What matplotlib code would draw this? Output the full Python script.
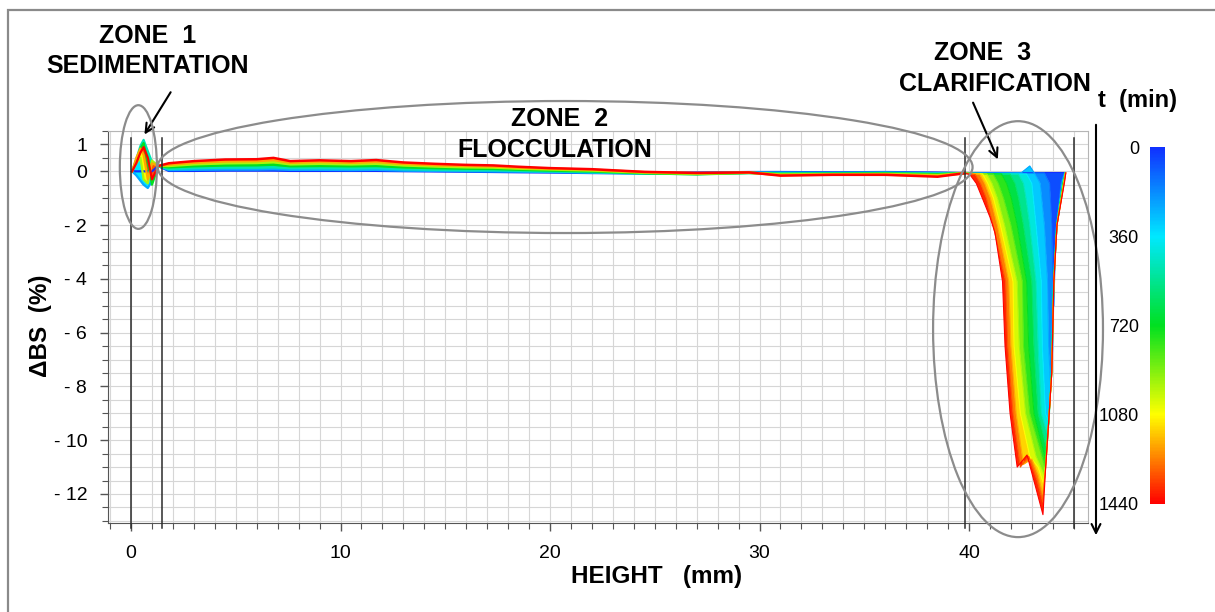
import matplotlib
matplotlib.use('Agg')
import matplotlib.pyplot as plt
from matplotlib.colors import LinearSegmentedColormap, Normalize
from matplotlib.cm import ScalarMappable
from matplotlib.patches import Ellipse, Rectangle, FancyArrowPatch
from matplotlib.ticker import FixedLocator, MultipleLocator, FuncFormatter

plt.rcParams['font.family'] = ['Liberation Sans', 'DejaVu Sans']

W, H = 1215, 612

# time colour scale (min)
t_ticks = [0, 360, 720, 1080, 1440]
t_colors = ['#1030ff', '#00e8ff', '#00e020', '#ffff00', '#ff0000']

# zone limits (mm)
zone_bounds = [0.0, 1.5, 39.8, 45.0]

# zone 1 : sedimentation, profiles read at a few times
z1_times = [0, 240, 480, 720, 960, 1200, 1440]
z1_height = [0.05, 0.25, 0.45, 0.6, 0.8, 1.0, 1.3]
z1_bs = [
    [0.0, 0.0, 0.0, 0.0, 0.0, 0.0, 0.2],
    [0.0, -0.15, -0.35, -0.5, -0.62, -0.35, 0.2],
    [0.0, 0.45, 0.95, 1.17, 0.75, 0.35, 0.2],
    [0.0, 0.4, 0.85, 1.05, 0.3, -0.5, 0.2],
    [0.0, 0.3, 0.5, -0.3, -0.45, 0.4, 0.2],
    [0.0, 0.5, 0.85, 0.6, -0.3, 0.3, 0.2],
    [0.0, 0.3, 0.7, 0.9, 0.5, -0.3, 0.2],
]

# zone 2 : flocculation
z2_times = [0, 240, 480, 720, 960, 1200, 1440]
z2_height = [1.3, 1.8, 3.0, 4.5, 6.0, 6.8, 7.6, 9.0, 10.5, 11.7, 13.0, 14.5, 16.0,
             17.3, 18.5, 20.0, 22.0, 24.5, 27.0, 29.5, 31.0, 33.5, 36.0, 38.5, 39.8]
z2_bs = [
    [0.20, 0.02, 0.02, 0.03, 0.03, 0.03, 0.02, 0.02, 0.02, 0.02, 0.01, 0.0, -0.01,
     -0.02, -0.03, -0.04, -0.06, -0.07, -0.05, -0.03, -0.03, -0.04, -0.03, -0.05, -0.07],
    [0.20, 0.05, 0.06, 0.07, 0.07, 0.08, 0.06, 0.06, 0.05, 0.06, 0.03, 0.02, 0.01,
     0.0, -0.01, -0.02, -0.05, -0.08, -0.07, -0.04, -0.05, -0.06, -0.05, -0.07, -0.07],
    [0.20, 0.09, 0.12, 0.14, 0.14, 0.15, 0.12, 0.12, 0.11, 0.12, 0.08, 0.06, 0.04,
     0.04, 0.02, 0.0, -0.03, -0.08, -0.10, -0.06, -0.07, -0.07, -0.06, -0.09, -0.07],
    [0.20, 0.15, 0.19, 0.22, 0.23, 0.25, 0.19, 0.20, 0.19, 0.20, 0.15, 0.12, 0.10,
     0.09, 0.06, 0.03, 0.0, -0.07, -0.11, -0.06, -0.10, -0.09, -0.08, -0.11, -0.07],
    [0.20, 0.20, 0.26, 0.30, 0.31, 0.34, 0.26, 0.28, 0.26, 0.28, 0.22, 0.18, 0.15,
     0.14, 0.10, 0.07, 0.03, -0.05, -0.09, -0.05, -0.12, -0.11, -0.10, -0.14, -0.07],
    [0.20, 0.25, 0.32, 0.37, 0.38, 0.42, 0.32, 0.35, 0.32, 0.35, 0.28, 0.23, 0.20,
     0.18, 0.14, 0.10, 0.06, -0.03, -0.07, -0.05, -0.14, -0.12, -0.12, -0.17, -0.07],
    [0.20, 0.30, 0.38, 0.44, 0.45, 0.50, 0.38, 0.41, 0.38, 0.42, 0.33, 0.28, 0.24,
     0.22, 0.17, 0.12, 0.08, -0.02, -0.06, -0.04, -0.16, -0.13, -0.13, -0.20, -0.07],
]

# zone 3 : clarification, one (height, dBS) profile per time
z3_times = [0, 120, 240, 360, 480, 600, 720, 840, 960, 1080, 1200, 1320, 1440]
z3_height = [
    [39.8, 44.6],
    [39.8, 43.6, 43.85, 43.95, 44.0, 44.05, 44.12, 44.25, 44.4, 44.55],
    [39.8, 42.5, 42.9, 43.15, 43.4, 43.6, 43.75, 43.8, 43.9, 44.0, 44.06, 44.2, 44.45, 44.58],
    [39.8, 42.75, 43.0, 43.2, 43.45, 43.5, 43.65, 43.8, 43.93, 44.03, 44.18, 44.47, 44.58],
    [39.8, 42.35, 42.6, 42.72, 42.9, 43.2, 43.3, 43.45, 43.75, 43.82, 43.93, 44.03, 44.18,
     44.48, 44.59],
    [39.8, 41.95, 42.2, 42.37, 42.6, 43.0, 43.1, 43.3, 43.7, 43.8, 43.94, 44.04, 44.19, 44.5, 44.6],
    [39.8, 41.55, 41.8, 42.02, 42.3, 42.75, 42.85, 43.1, 43.65, 43.75, 43.8, 43.94, 44.04, 44.19,
     44.5, 44.6],
    [39.8, 41.15, 41.4, 41.65, 42.0, 42.55, 42.6, 42.9, 43.62, 43.72, 43.8, 43.95, 44.05, 44.2,
     44.52, 44.6],
    [39.8, 40.85, 41.1, 41.36, 41.7, 42.3, 42.4, 42.7, 43.2, 43.6, 43.7, 43.8, 43.95, 44.05, 44.2,
     44.52, 44.6],
    [39.8, 40.65, 40.9, 41.17, 41.5, 42.1, 42.15, 42.45, 42.9, 43.3, 43.55, 43.68, 43.8, 43.95,
     44.05, 44.2, 44.53, 44.61],
    [39.8, 40.5, 40.75, 41.02, 41.35, 41.9, 42.0, 42.25, 42.6, 43.0, 43.3, 43.52, 43.66, 43.8,
     43.95, 44.05, 44.2, 44.54, 44.61],
    [39.8, 40.3, 40.55, 40.83, 41.15, 41.75, 41.85, 42.1, 42.45, 42.85, 43.25, 43.52, 43.66, 43.8,
     43.95, 44.05, 44.2, 44.55, 44.62],
    [39.8, 40.05, 40.35, 40.67, 41.0, 41.24, 41.6, 41.72, 41.96, 42.3, 42.77, 43.2, 43.53, 43.66,
     43.8, 43.95, 44.05, 44.2, 44.56, 44.62],
]
z3_bs = [
    [-0.04, -0.04],
    [-0.06, -0.06, -0.45, -2.0, -4.1, -5.0, -3.0, -1.5, -0.4, -0.06],
    [-0.07, -0.05, 0.2, -0.1, -0.45, -2.0, -4.1, -6.5, -8.0, -6.5, -4.1, -2.0, -0.4, -0.06],
    [-0.07, -0.1, -0.45, -2.0, -4.1, -6.5, -9.0, -9.3, -7.5, -4.1, -2.0, -0.4, -0.06],
    [-0.07, -0.1, -0.45, -1.0, -2.0, -4.1, -6.5, -9.0, -9.8, -9.35, -7.5, -4.1, -2.0, -0.4, -0.06],
    [-0.07, -0.1, -0.45, -1.0, -2.0, -4.1, -6.5, -9.0, -10.3, -9.35, -7.5, -4.1, -2.0, -0.4, -0.06],
    [-0.07, -0.1, -0.45, -1.0, -2.0, -4.1, -6.5, -9.0, -10.7, -10.0, -9.35, -7.5, -4.1, -2.0,
     -0.4, -0.06],
    [-0.07, -0.1, -0.45, -1.0, -2.0, -4.1, -6.5, -9.0, -11.0, -10.0, -9.35, -7.5, -4.1, -2.0,
     -0.4, -0.06],
    [-0.07, -0.1, -0.45, -1.0, -2.0, -4.1, -6.5, -9.0, -10.6, -11.3, -10.5, -9.35, -7.5, -4.1,
     -2.0, -0.4, -0.06],
    [-0.07, -0.1, -0.45, -1.0, -2.0, -4.1, -6.5, -9.0, -10.6, -11.0, -11.6, -10.8, -9.35, -7.5,
     -4.1, -2.0, -0.4, -0.06],
    [-0.07, -0.1, -0.45, -1.0, -2.0, -4.1, -6.5, -9.0, -10.9, -10.7, -11.3, -12.0, -11.0, -9.35,
     -7.5, -4.1, -2.0, -0.4, -0.06],
    [-0.07, -0.12, -0.45, -1.0, -2.0, -4.1, -6.5, -9.0, -11.0, -10.6, -11.5, -12.3, -11.0, -9.35,
     -7.5, -4.1, -2.0, -0.4, -0.06],
    [-0.07, -0.13, -0.45, -1.06, -1.7, -2.28, -4.1, -6.5, -9.0, -11.0, -10.55, -11.8, -12.77,
     -11.0, -9.35, -7.5, -4.1, -2.0, -0.4, -0.06],
]

cmap = LinearSegmentedColormap.from_list('t', list(zip([0, 0.25, 0.5, 0.75, 1.0], t_colors)))
norm = Normalize(0, 1440)


def px(x, y):
    """pixel position in the picture -> figure fraction"""
    return x / W, 1 - y / H


def draw_profiles(ax, heights, values, times, lw):
    # colour the space between two successive profiles, then the profiles on top
    for k in range(len(times) - 1):
        xs = list(heights[k]) + list(heights[k + 1])[::-1]
        ys = list(values[k]) + list(values[k + 1])[::-1]
        ax.fill(xs, ys, color=cmap(norm((times[k] + times[k + 1]) / 2)), lw=0, zorder=2)
    for x, y, t in zip(heights, values, times):
        ax.plot(x, y, color=cmap(norm(t)), lw=lw, zorder=3)


fig = plt.figure(figsize=(W / 100, H / 100), dpi=100)
ax = fig.add_axes([108 / W, 1 - 523 / H, 980 / W, 392 / H])

draw_profiles(ax, [z1_height] * len(z1_times), z1_bs, z1_times, 1.6)
draw_profiles(ax, [z2_height] * len(z2_times), z2_bs, z2_times, 1.8)
draw_profiles(ax, z3_height, z3_bs, z3_times, 0.8)

for xb in zone_bounds:
    ax.plot([xb, xb], [1.24, -13.25], color='#2b2b2b', lw=1.1, clip_on=False, zorder=4)

ax.set_xlim(-1.1, 45.68)
ax.set_ylim(-13.08, 1.5)

ax.xaxis.set_major_locator(FixedLocator([0, 10, 20, 30, 40]))
ax.xaxis.set_minor_locator(MultipleLocator(1))
ax.yaxis.set_major_locator(FixedLocator([1, 0, -2, -4, -6, -8, -10, -12]))
ax.yaxis.set_minor_locator(MultipleLocator(0.5))
ax.yaxis.set_major_formatter(FuncFormatter(lambda v, _: f'- {abs(int(v))}' if v < 0 else f'{int(v)}'))
ax.tick_params(which='major', length=6, width=1, color='#555555', labelsize=14)
ax.tick_params(which='minor', length=4, width=0.8, color='#555555')
ax.tick_params(axis='y', pad=9)
ax.tick_params(axis='x', pad=10)
ax.grid(which='both', color='#d6d6d6', lw=0.8)
ax.set_axisbelow(True)
for s in ['left', 'bottom']:
    ax.spines[s].set_color('#555555')
for s in ['top', 'right']:
    ax.spines[s].set_color('#b5b5b5')

# zone outlines
ell_kw = dict(fill=False, edgecolor='#8c8c8c', lw=1.6, clip_on=False, zorder=5)
ax.add_patch(Ellipse((0.35, 0.16), 1.77, 4.6, **ell_kw))
ax.add_patch(Ellipse((20.72, 0.16), 38.9, 4.91, **ell_kw))
ax.add_patch(Ellipse((42.34, -5.87), 8.11, 15.47, **ell_kw))

arr_kw = dict(arrowstyle='->', lw=1.5, color='black', mutation_scale=16)
ax.annotate('', xy=(0.57, 1.28), xytext=(1.96, 3.03), arrowprops=arr_kw, annotation_clip=False)
ax.annotate('', xy=(41.43, 0.35), xytext=(40.14, 2.65), arrowprops=arr_kw, annotation_clip=False)

txt = dict(fontsize=18, fontweight='bold', ha='center', va='center')
fig.text(*px(148, 36), 'ZONE  1', **txt)
fig.text(*px(148, 66), 'SEDIMENTATION', **txt)
fig.text(*px(560, 119), 'ZONE  2', **txt)
fig.text(*px(555, 150), 'FLOCCULATION', **txt)
fig.text(*px(983, 53), 'ZONE  3', **txt)
fig.text(*px(995, 84), 'CLARIFICATION', **txt)
fig.text(*px(657, 577), 'HEIGHT   (mm)', fontsize=17.5, fontweight='bold', ha='center', va='center')
fig.text(*px(41, 326), '\u0394BS  (%)', rotation=90, fontsize=17.5, fontweight='bold',
         ha='center', va='center')
fig.text(*px(1137, 100), 't  (min)', fontsize=17, fontweight='bold', ha='center', va='center')

# time colour bar
cax = fig.add_axes([1150 / W, 1 - 504 / H, 15 / W, 357 / H])
cb = fig.colorbar(ScalarMappable(norm=norm, cmap=cmap), cax=cax)
cb.outline.set_visible(False)
cb.set_ticks(t_ticks)
cax.invert_yaxis()
cax.yaxis.set_ticks_position('left')
cax.tick_params(length=0, pad=8, labelsize=13)

fig.add_artist(FancyArrowPatch(px(1096, 122), px(1096, 538), transform=fig.transFigure,
                               arrowstyle='->', mutation_scale=16, lw=1.5, color='black'))

# grey frame, only its top and left edges fall inside the picture
fig.add_artist(Rectangle(px(7.5, 700), 1.2, (700 - 10) / H, transform=fig.transFigure,
                         fill=False, edgecolor='#8a8a8a', lw=1.6))

fig.savefig('out.png', dpi=100)
